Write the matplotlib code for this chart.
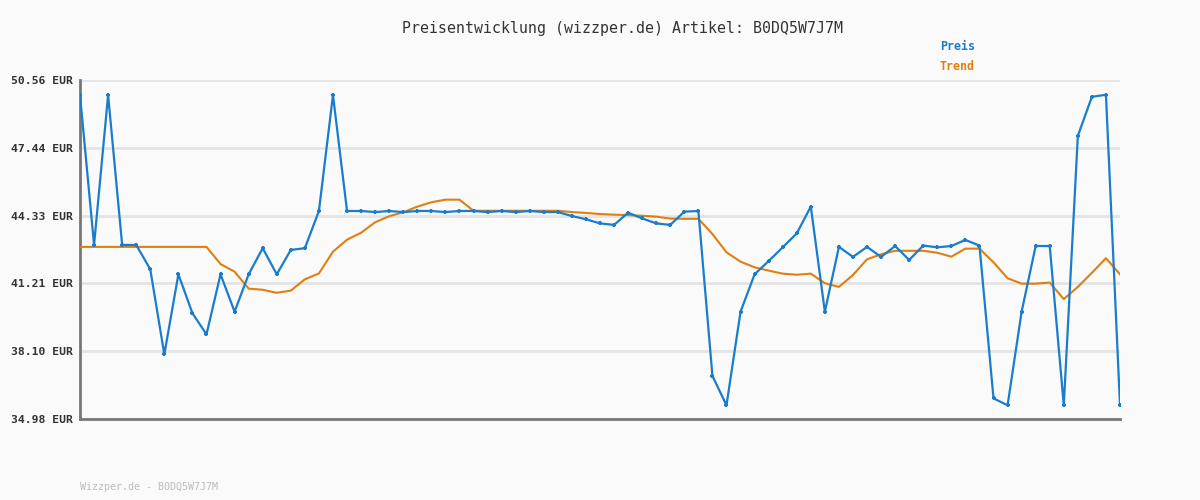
import matplotlib
matplotlib.use("Agg")
import matplotlib.pyplot as plt

# price history
preis = [49.87, 42.98, 49.87, 42.98, 42.98, 41.86, 37.95, 41.63, 39.84, 38.87,
         41.63, 39.91, 41.63, 42.83, 41.63, 42.75, 42.83, 44.54, 49.87, 44.54,
         44.54, 44.49, 44.54, 44.49, 44.54, 44.54, 44.49, 44.54, 44.54, 44.49,
         44.54, 44.49, 44.54, 44.49, 44.49, 44.31, 44.16, 43.97, 43.90, 44.46,
         44.20, 43.97, 43.90, 44.51, 44.54, 36.96, 35.61, 39.91, 41.63, 42.24,
         42.87, 43.51, 44.74, 39.91, 42.89, 42.43, 42.89, 42.43, 42.93, 42.29,
         42.95, 42.87, 42.93, 43.21, 42.95, 35.93, 35.61, 39.91, 42.93, 42.93,
         35.61, 47.99, 49.79, 49.88, 35.61]

trend = [42.89, 42.89, 42.89, 42.89, 42.89, 42.89, 42.89, 42.89, 42.89, 42.89,
         42.10, 41.75, 40.97, 40.92, 40.78, 40.88, 41.40, 41.67, 42.67, 43.22,
         43.54, 44.02, 44.30, 44.48, 44.74, 44.94, 45.06, 45.06, 44.55, 44.55,
         44.55, 44.55, 44.55, 44.55, 44.55, 44.49, 44.45, 44.40, 44.37, 44.35,
         44.32, 44.28, 44.19, 44.18, 44.18, 43.48, 42.64, 42.21, 41.95, 41.80,
         41.66, 41.61, 41.66, 41.22, 41.05, 41.60, 42.32, 42.55, 42.71, 42.71,
         42.71, 42.62, 42.44, 42.81, 42.81, 42.18, 41.45, 41.20, 41.20, 41.25,
         40.49, 41.05, 41.70, 42.37, 41.63]

y_ticks = [34.98, 38.10, 41.21, 44.33, 47.44, 50.56]
artikel = "B0DQ5W7J7M"

BG = "#fafafa"
BLUE = "#1a7dcc"
ORANGE = "#e07f10"
MONO = "DejaVu Sans Mono"

fig = plt.figure(figsize=(12, 5), dpi=100, facecolor=BG)
ax = fig.add_axes([80 / 1200, 1 - 419 / 500, 1040 / 1200, 339 / 500])
ax.set_facecolor(BG)

x = list(range(len(preis)))
ax.plot(x, trend, color=ORANGE, lw=1.5, zorder=3)
ax.plot(x, preis, color=BLUE, lw=1.6, marker="+", ms=3.5, mew=1.6, zorder=4)

ax.set_xlim(0, len(preis) - 1)
ax.set_ylim(y_ticks[0], y_ticks[-1])
ax.set_yticks(y_ticks)
ax.set_yticklabels([f"{v:.2f} EUR" for v in y_ticks], fontfamily=MONO,
                   fontweight="bold", fontsize=8.2, color="#333333")
ax.set_xticks([])
ax.tick_params(axis="y", length=0, pad=5)
ax.grid(axis="y", color="#e4e4e4", lw=2, zorder=0)

for side in ["top", "right"]:
    ax.spines[side].set_visible(False)
for side in ["left", "bottom"]:
    ax.spines[side].set_color("#777777")
    ax.spines[side].set_linewidth(2)

fig.text(623 / 1200, 1 - 28 / 500, f"Preisentwicklung (wizzper.de) Artikel: {artikel}",
         ha="center", va="center", fontfamily=MONO, fontsize=10.7, color="#333333")
fig.text(940 / 1200, 1 - 47 / 500, "Preis", ha="left", va="center",
         fontfamily=MONO, fontweight="bold", fontsize=8.4, color=BLUE)
fig.text(940 / 1200, 1 - 67 / 500, "Trend", ha="left", va="center",
         fontfamily=MONO, fontweight="bold", fontsize=8.4, color=ORANGE)
fig.text(80 / 1200, 1 - 487 / 500, f"Wizzper.de - {artikel}", ha="left", va="center",
         fontfamily=MONO, fontsize=7.2, color="#bbbbbb")

fig.savefig("out.png", dpi=100, facecolor=BG)
